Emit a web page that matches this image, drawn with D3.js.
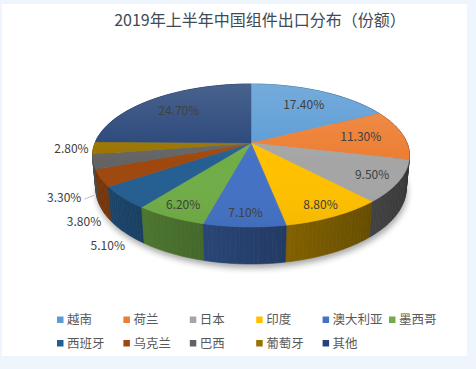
<!DOCTYPE html>
<html>
<head>
<meta charset="utf-8">
<script src="https://cdn.jsdelivr.net/npm/d3@7"></script>
<style>
  html, body { margin: 0; padding: 0; background: #eef5fc; }
  svg { display: block; }
  text { font-family: "Noto Sans CJK SC", "Noto Sans", sans-serif; }
</style>
</head>
<body>
<svg id="chart" width="476" height="369"></svg>
<script>
// data
const categories = ['越南', '荷兰', '日本', '印度', '澳大利亚', '墨西哥', '西班牙', '乌克兰', '巴西', '葡萄牙', '其他'];
const shares = [17.4, 11.3, 9.5, 8.8, 7.1, 6.2, 5.1, 3.8, 3.3, 2.8, 24.7];
const palette = ['#5B9BD5', '#ED7D31', '#A5A5A5', '#FFC000', '#4472C4', '#70AD47',
                 '#255E91', '#9E480E', '#636363', '#997300', '#264478'];
const title = '2019年上半年中国组件出口分布（份额）';

const width = 476, height = 369;
const svg = d3.select('#chart');
const color = d3.scaleOrdinal(categories, palette);

// panel
svg.append('rect').attr('x', 2).attr('y', 4).attr('width', 465).attr('height', 352).attr('fill', '#ffffff');

svg.append('text')
  .attr('x', 260).attr('y', 20).attr('dy', '0.35em')
  .attr('text-anchor', 'middle')
  .style('font-size', '16px').style('fill', '#414a54')
  .text(title);

// perspective projection of a flat disc (radius 1) seen from above
const cx = 251, cy = 143;
const focal = 798.9, dist = 5.12, thick = 0.236;
const sinP = 0.444, cosP = 0.896;
function proj(theta, r, z) {
  const X = r * Math.sin(theta), Y = r * Math.cos(theta);
  const depth = dist + Y * cosP - z * sinP;
  const up = Y * sinP + z * cosP;
  return [cx + focal * X / depth, cy - focal * up / depth, depth];
}

const pie = d3.pie().sort(null).value(d => d.value);
const arcs = pie(categories.map((c, i) => ({ name: c, value: shares[i] })));

const defs = svg.append('defs');
const blur = defs.append('filter').attr('id', 'shadow').attr('x', '-20%').attr('y', '-20%').attr('width', '140%').attr('height', '140%');
blur.append('feGaussianBlur').attr('stdDeviation', 3);

const topGrad = defs.append('linearGradient').attr('id', 'topShine').attr('x1', 0).attr('y1', 0).attr('x2', 0).attr('y2', 1);
topGrad.append('stop').attr('offset', '0%').attr('stop-color', '#fff').attr('stop-opacity', 0.16);
topGrad.append('stop').attr('offset', '55%').attr('stop-color', '#fff').attr('stop-opacity', 0);
topGrad.append('stop').attr('offset', '100%').attr('stop-color', '#000').attr('stop-opacity', 0.04);

const line = d3.line();
const full = d3.range(0, 361, 2).map(a => a * Math.PI / 180);

// shadow under the pie
svg.append('path')
  .attr('d', line(full.map(t => { const p = proj(t, 1.0, -thick); return [p[0] + 1, p[1] + 4]; })) + 'Z')
  .attr('fill', '#000').attr('opacity', 0.35).attr('filter', 'url(#shadow)');

// outer walls, split into thin pieces and drawn far-to-near
const walls = [];
arcs.forEach(a => {
  const n = Math.max(2, Math.ceil((a.endAngle - a.startAngle) / (Math.PI / 120)));
  const step = (a.endAngle - a.startAngle) / n;
  for (let k = 0; k < n; k++) {
    const t0 = a.startAngle + k * step, t1 = t0 + step, tm = (t0 + t1) / 2;
    const shade = 0.55 - 0.22 * Math.sin(tm);
    const c = d3.rgb(color(a.data.name));
    const fill = d3.rgb(c.r * shade, c.g * shade, c.b * shade).formatHex();
    const pts = [proj(t0, 1, 0), proj(t1, 1, 0), proj(t1, 1, -thick), proj(t0, 1, -thick)];
    walls.push({ depth: proj(tm, 1, 0)[2], fill, pts: pts.map(p => [p[0], p[1]]) });
  }
});
walls.sort((a, b) => b.depth - a.depth);
svg.append('g').selectAll('path').data(walls).enter().append('path')
  .attr('d', d => line(d.pts) + 'Z')
  .attr('fill', d => d.fill)
  .attr('stroke', d => d.fill).attr('stroke-width', 0.6);

// top faces
function topPath(a) {
  const n = Math.max(2, Math.ceil((a.endAngle - a.startAngle) / (Math.PI / 90)));
  const pts = [proj(0, 0, 0)];
  for (let k = 0; k <= n; k++) {
    pts.push(proj(a.startAngle + (a.endAngle - a.startAngle) * k / n, 1, 0));
  }
  return line(pts.map(p => [p[0], p[1]])) + 'Z';
}
svg.append('g').selectAll('path').data(arcs).enter().append('path')
  .attr('d', topPath)
  .attr('fill', d => color(d.data.name))
  .attr('stroke', d => color(d.data.name)).attr('stroke-width', 0.5);

svg.append('path')
  .attr('d', line(full.map(t => proj(t, 1, 0)).map(p => [p[0], p[1]])) + 'Z')
  .attr('fill', 'url(#topShine)');

// value labels
const labels = svg.append('g').style('font-size', '12px').style('fill', '#404040');
const fmt = v => v.toFixed(2) + '%';
arcs.forEach(a => {
  const mid = (a.startAngle + a.endAngle) / 2;
  const cm = Math.cos(mid);
  if (a.data.value >= 6) {
    const r = 0.72 + 0.14 * Math.max(0, Math.min(1, -cm * 1.6));
    const p = proj(mid, r, 0);
    labels.append('text').attr('x', p[0]).attr('y', p[1]).attr('dy', '0.35em')
      .attr('text-anchor', 'middle').text(fmt(a.data.value));
  } else {
    const anchor = proj(mid, 1, cm < -0.15 ? -thick : 0);
    // the crowded label next to the rim gets a leader line
    if (a.data.value < 3.5 && cm < -0.15) {
      labels.append('path')
        .attr('d', line([[anchor[0] - 12, anchor[1] + 4], [anchor[0] - 2, anchor[1]]]))
        .attr('stroke', '#bfbfbf').attr('fill', 'none');
      labels.append('text').attr('x', anchor[0] - 15).attr('y', anchor[1] + 3).attr('dy', '0.35em')
        .attr('text-anchor', 'end').text(fmt(a.data.value));
    } else {
      const dx = anchor[0] - cx, dy = anchor[1] - cy, len = Math.hypot(dx, dy);
      labels.append('text')
        .attr('x', anchor[0] + dx / len * 22).attr('y', anchor[1] + dy / len * 22).attr('dy', '0.35em')
        .attr('text-anchor', 'middle').text(fmt(a.data.value));
    }
  }
});

// legend
const cols = 6;
const colX = d3.scaleLinear().domain([0, 1]).range([57, 123.4]);
const legend = svg.append('g').selectAll('g').data(categories).enter().append('g')
  .attr('transform', (d, i) => `translate(${colX(i % cols)},${320 + Math.floor(i / cols) * 23.5})`);
legend.append('rect').attr('x', 0).attr('y', -3.5).attr('width', 6.5).attr('height', 6.5)
  .attr('fill', d => color(d));
legend.append('text').attr('x', 10).attr('y', 0).attr('dy', '0.35em')
  .style('font-size', '12.5px').style('fill', '#595959')
  .text(d => d);
</script>
</body>
</html>
